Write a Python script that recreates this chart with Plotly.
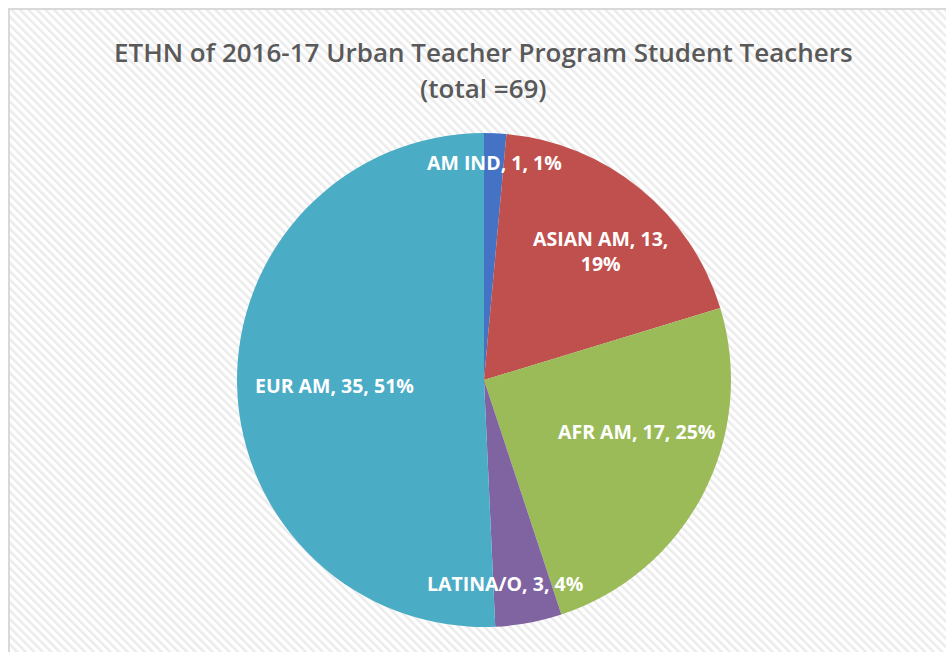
import base64
import plotly.graph_objects as go

# ---- data ----
categories = ["AM IND", "ASIAN AM", "AFR AM", "LATINA/O", "EUR AM"]
counts = [1, 13, 17, 3, 35]
title_line1 = "ETHN of 2016-17 Urban Teacher Program Student Teachers"
title_line2 = "(total =69)"

# ---- styles ----
W, H = 946, 652
colors = ["#4472C4", "#C0504D", "#9BBB59", "#8064A2", "#4BACC6"]
# label centers in screen pixels (x from left, y from top), and line breaks
label_pos = [(494, 162), (600, 251), (636, 432), (505, 583), (334, 385)]
label_break = [False, True, False, False, False]

cx, cy, R = 484, 380, 247


def px_x(x):
    return x / W


def px_y(y):
    return 1 - y / H


total = sum(counts)

fig = go.Figure()
fig.add_trace(go.Pie(
    labels=categories,
    values=counts,
    sort=False,
    direction="clockwise",
    rotation=0,
    marker=dict(colors=colors, line=dict(width=0)),
    textinfo="none",
    hoverinfo="label+value+percent",
    showlegend=False,
    domain=dict(x=[px_x(cx - R), px_x(cx + R)], y=[px_y(cy + R), px_y(cy - R)]),
))

annotations = []
for lab, v, (px, py), br in zip(categories, counts, label_pos, label_break):
    pct = round(100 * v / total)
    sep = ",<br>" if br else ", "
    txt = f"{lab}, {v}{sep}{pct}%"
    annotations.append(dict(
        x=px_x(px), y=px_y(py), xref="paper", yref="paper",
        text=txt, showarrow=False, xanchor="center", yanchor="middle",
        font=dict(family="Open Sans", size=19.5, color="white", weight="bold"),
        align="center",
    ))

for txt, ty in [(title_line1, 52), (title_line2, 88)]:
    annotations.append(dict(
        x=px_x(483), y=px_y(ty), xref="paper", yref="paper",
        text=txt, showarrow=False, xanchor="center", yanchor="middle",
        font=dict(family="Open Sans", size=26, color="#595959", weight=600),
    ))

# hatched background as svg pattern
svg = (
    f'<svg xmlns="http://www.w3.org/2000/svg" width="{W}" height="{H}">'
    '<defs><pattern id="p" width="6" height="6" patternUnits="userSpaceOnUse" patternTransform="rotate(-45)">'
    '<rect width="6" height="6" fill="#ffffff"/>'
    '<rect width="2.5" height="6" fill="#ebebeb"/>'
    '</pattern></defs>'
    f'<rect width="{W}" height="{H}" fill="url(#p)"/>'
    '</svg>'
)
src = "data:image/svg+xml;base64," + base64.b64encode(svg.encode()).decode()

fig.update_layout(
    width=W, height=H,
    margin=dict(l=0, r=0, t=0, b=0),
    paper_bgcolor="white",
    plot_bgcolor="white",
    annotations=annotations,
    images=[dict(source=src, xref="paper", yref="paper", x=px_x(9), y=px_y(9),
                 sizex=1, sizey=1, xanchor="left", yanchor="top",
                 sizing="stretch", layer="below")],
    shapes=[dict(type="rect", xref="paper", yref="paper",
                 x0=px_x(9), x1=1.02, y0=-0.02, y1=px_y(9),
                 line=dict(color="#d9d9d9", width=2), fillcolor="rgba(0,0,0,0)",
                 layer="above")],
)

fig.write_html(
    "out.html",
    config={"displayModeBar": False},
    post_script="document.body.style.margin='0';document.body.style.overflow='hidden';",
)
